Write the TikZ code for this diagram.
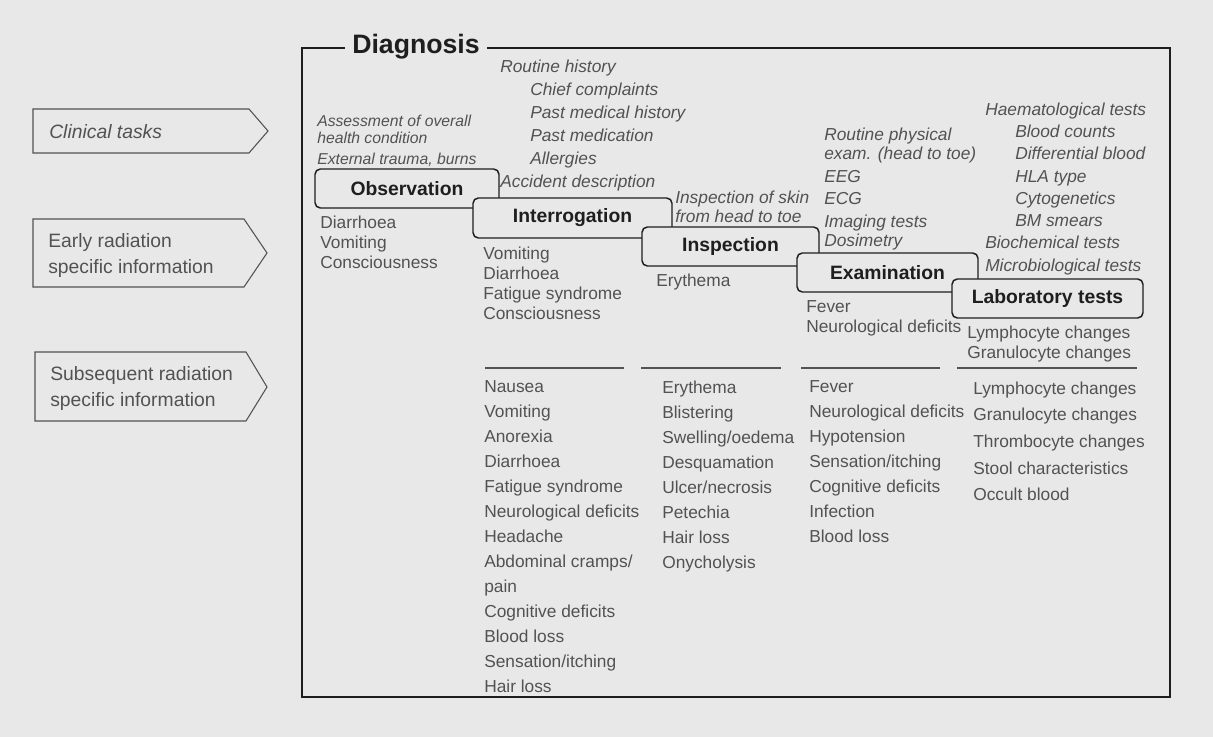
\documentclass[tikz,border=0pt]{standalone}
\usepackage{fontspec}
\setmainfont{Liberation Sans}
\definecolor{bgcol}{RGB}{232,232,232}
\definecolor{inkgray}{RGB}{82,82,82}
\definecolor{inkdark}{RGB}{30,30,30}
\begin{document}
\begin{tikzpicture}[x=0.75pt,y=-0.75pt,
  stage/.style={draw=inkdark,line width=1.1pt,rounded corners=4pt,fill=bgcol,
    font=\fontsize{14.5}{17}\selectfont\bfseries,text=inkdark,inner sep=0pt},
  sign/.style={anchor=north west,inner sep=0pt,align=left,text=inkgray},
  task/.style={sign,font=\fontsize{13}{17.25}\selectfont\itshape},
  early/.style={sign,font=\fontsize{13}{15}\selectfont},
  later/.style={sign,font=\fontsize{13}{18.75}\selectfont},
  tab/.style={draw=inkgray,line width=0.8pt},
  tabtext/.style={sign,font=\fontsize{14.5}{19.5}\selectfont},
  sepline/.style={draw=inkgray,line width=1pt}]
\useasboundingbox[fill=bgcol] (0,0) rectangle (1213,737);

% row headings on the left
\draw[tab] (33,109) -- (249,109) -- (268,131) -- (249,153) -- (33,153) -- cycle;
\draw[tab] (33,219) -- (244,219) -- (267,253) -- (244,287) -- (33,287) -- cycle;
\draw[tab] (35,352) -- (246,352) -- (267,387) -- (246,421) -- (35,421) -- cycle;
\node[tabtext,font=\fontsize{14.5}{19.5}\selectfont\itshape] (clinical) at (49,124) {Clinical tasks};
\node[tabtext] (earlyinfo) at (48,233) {Early radiation\\specific information};
\node[tabtext] (laterinfo) at (50,366) {Subsequent radiation\\specific information};

% frame with title
\draw[inkdark,line width=1.7pt] (302,48) rectangle (1170,697);
\node[fill=bgcol,inner xsep=5.5pt,inner ysep=1pt,text=inkdark,
  font=\fontsize{20}{22}\selectfont\bfseries] (diagnosis) at (416,47) {Diagnosis};

% clinical tasks
\node[task,font=\fontsize{11.8}{12.75}\selectfont\itshape] (obstask) at (317,114.5)
  {Assessment of overall\\health condition};
\node[task,font=\fontsize{11.8}{12.75}\selectfont\itshape] (obstrauma) at (317,152.5)
  {External trauma, burns};
\node[task] (inttask) at (500,60) {Routine history\\
  \hspace*{22.5pt}Chief complaints\\\hspace*{22.5pt}Past medical history\\
  \hspace*{22.5pt}Past medication\\\hspace*{22.5pt}Allergies\\Accident description};
\node[task,font=\fontsize{13}{14.25}\selectfont\itshape] (insptask) at (675,190.5)
  {Inspection of skin\\from head to toe};
\node[task,font=\fontsize{13}{14.25}\selectfont\itshape] (examtask) at (824,127.5)
  {Routine physical\\exam. (head to toe)\\[3pt]EEG\\[2.5pt]ECG\\[3pt]Imaging tests\\Dosimetry};
\node[task,font=\fontsize{13}{16.7}\selectfont\itshape] (labtask) at (985,102.5)
  {Haematological tests\\\hspace*{22.5pt}Blood counts\\\hspace*{22.5pt}Differential blood\\
  \hspace*{22.5pt}HLA type\\\hspace*{22.5pt}Cytogenetics\\\hspace*{22.5pt}BM smears\\
  Biochemical tests\\Microbiological tests};

% the five steps
\node[stage,minimum width=138pt,minimum height=29.25pt] (observation) at (407,188.5) {Observation};
\node[stage,minimum width=149.25pt,minimum height=30pt] (interrogation) at (572.5,218) {Interrogation};
\node[stage,minimum width=132.75pt,minimum height=29.25pt] (inspection) at (730.5,246.5) {Inspection};
\node[stage,minimum width=135.75pt,minimum height=29.25pt] (examination) at (887.5,272.5) {Examination};
\node[stage,minimum width=143.25pt,minimum height=29.25pt] (laboratory) at (1047.5,298.5) {Laboratory tests};

% early radiation specific information
\node[early] (obsearly) at (320,215.5) {Diarrhoea\\Vomiting\\Consciousness};
\node[early] (intearly) at (483,246.5) {Vomiting\\Diarrhoea\\Fatigue syndrome\\Consciousness};
\node[early] (inspearly) at (656,273.5) {Erythema};
\node[early] (examearly) at (806,300.5) {Fever\\Neurological deficits};
\node[early] (labearly) at (967,325.5) {Lymphocyte changes\\Granulocyte changes};

\draw[sepline] (485,368) -- (624,368);
\draw[sepline] (641,368) -- (781,368);
\draw[sepline] (801,368) -- (940,368);
\draw[sepline] (957,368) -- (1137,368);

% subsequent radiation specific information
\node[later] (intlater) at (484,380.5) {Nausea\\Vomiting\\Anorexia\\Diarrhoea\\Fatigue syndrome\\
  Neurological deficits\\Headache\\Abdominal cramps/\\pain\\Cognitive deficits\\Blood loss\\
  Sensation/itching\\Hair loss};
\node[later] (insplater) at (662,380.5) {Erythema\\Blistering\\Swelling/oedema\\Desquamation\\
  Ulcer/necrosis\\Petechia\\Hair loss\\Onycholysis};
\node[later] (examlater) at (809,380.5) {Fever\\Neurological deficits\\Hypotension\\
  Sensation/itching\\Cognitive deficits\\Infection\\Blood loss};
\node[later,font=\fontsize{13}{20}\selectfont] (lablater) at (973,381.5) {Lymphocyte changes\\
  Granulocyte changes\\Thrombocyte changes\\Stool characteristics\\Occult blood};
\end{tikzpicture}
\end{document}
